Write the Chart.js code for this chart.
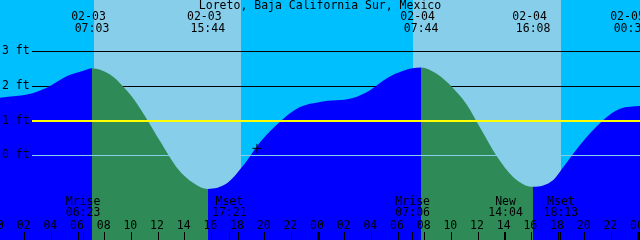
<!DOCTYPE html>
<html>
<head>
<meta charset="utf-8">
<script src="https://cdn.jsdelivr.net/npm/chart.js@4/dist/chart.umd.min.js"></script>
<style>
  html, body { margin: 0; padding: 0; background: #00bfff; }
  canvas { display: block; }
</style>
</head>
<body>
<canvas id="chartMarea" width="640" height="240"></canvas>
<script>
const titulo = "Loreto, Baja California Sur, Mexico";

// hours since 02-03 00:00 / height in ft
const horas = [0.15, 2.6, 3.9, 5.15, 6.4, 7.05, 8.4, 9.4, 10.15, 11.2, 12.15, 13.45, 14.65, 15.73,
  17.2, 18.3, 19.65, 21.3, 22.65, 24.15, 26.6, 27.9, 29.2, 30.4, 31.73, 32.9, 34.1, 35.2,
  36.15, 37.45, 38.65, 40.13, 41.65, 42.4, 43.65, 45.4, 46.65, 48.15, 48.55];
const alturas = [1.66, 1.79, 2.0, 2.28, 2.44, 2.51, 2.33, 1.98, 1.64, 1.02, 0.41, -0.37, -0.80, -0.97,
  -0.80, -0.34, 0.38, 1.02, 1.39, 1.54, 1.65, 1.88, 2.23, 2.44, 2.53, 2.35, 1.95, 1.44,
  0.80, -0.05, -0.63, -0.91, -0.71, -0.34, 0.30, 1.02, 1.34, 1.42, 1.43];

// high / low tides
const mareaHoras = [7.05, 15.733, 31.733, 40.133, 48.55];
const mareaTipo = ["high", "low", "high", "low", "high"];
const mareaFecha = ["02-03", "02-03", "02-04", "02-04", "02-05"];
const mareaHora = ["07:03", "15:44", "07:44", "16:08", "00:33"];

// sun
const salidaSol = [7.2, 31.12];
const puestaSol = [18.22, 42.22];

// moon
const lunaHoras = [6.383, 17.35, 31.1, 38.067, 42.217];
const lunaNombre = ["Mrise", "Mset", "Mrise", "New", "Mset"];
const lunaHora = ["06:23", "17:21", "07:06", "14:04", "18:13"];

const nivelesPies = [0, 1, 2, 3];
const horasEje = [0, 2, 4, 6, 8, 10, 12, 14, 16, 18, 20, 22, 24, 26, 28, 30, 32, 34, 36, 38, 40, 42, 44, 46, 48];
const ahoraHora = [19.42];
const ahoraAltura = [0.2];

const FUENTE = '11.5px "DejaVu Sans Mono", monospace';

function colorRelleno(context) {
  const chart = context.chart;
  const { chartArea, scales } = chart;
  if (!chartArea) return "#0000ff";
  const g = chart.ctx.createLinearGradient(chartArea.left, 0, chartArea.right, 0);
  let prev = "#0000ff";
  g.addColorStop(0, prev);
  mareaHoras.forEach((h, i) => {
    let p = (scales.x.getPixelForValue(h) - chartArea.left) / chartArea.width;
    p = Math.min(Math.max(p, 0), 1);
    const next = mareaTipo[i] === "high" ? "#2e8b57" : "#0000ff";
    g.addColorStop(p, prev);
    g.addColorStop(p, next);
    prev = next;
  });
  g.addColorStop(1, prev);
  return g;
}

function linea(ctx, a, py, color, ancho) {
  ctx.strokeStyle = color;
  ctx.lineWidth = ancho;
  const yy = ancho % 2 ? Math.round(py) + 0.5 : Math.round(py);
  ctx.beginPath();
  ctx.moveTo(32, yy);
  ctx.lineTo(a.right, yy);
  ctx.stroke();
}

const fondoPlugin = {
  id: "fondo",
  beforeDatasetsDraw(chart) {
    const { ctx, chartArea: a, scales: { x, y } } = chart;
    ctx.save();
    ctx.fillStyle = "#00bfff";
    ctx.fillRect(a.left, a.top, a.width, a.height);
    ctx.fillStyle = "#87ceeb";
    salidaSol.forEach((s, i) => {
      const x1 = Math.round(x.getPixelForValue(s));
      const x2 = Math.round(x.getPixelForValue(puestaSol[i]));
      ctx.fillRect(x1, a.top, x2 - x1, a.height);
    });
    linea(ctx, a, y.getPixelForValue(3), "#000", 1);
    linea(ctx, a, y.getPixelForValue(2), "#000", 1);
    ctx.restore();
  },
  afterDatasetsDraw(chart) {
    const { ctx, chartArea: a, scales: { x, y } } = chart;
    ctx.save();
    linea(ctx, a, y.getPixelForValue(1), "#ffff00", 2);
    linea(ctx, a, y.getPixelForValue(0), "#87ceeb", 1);

    ctx.font = FUENTE;
    ctx.fillStyle = "#000";
    ctx.textBaseline = "middle";

    ctx.textAlign = "left";
    nivelesPies.forEach(n => ctx.fillText(n + " ft", 2, y.getPixelForValue(n)));

    ctx.textAlign = "center";
    ctx.fillText(titulo, 320, 6);

    // tide labels on top
    mareaHoras.forEach((h, i) => {
      const cx = Math.min(x.getPixelForValue(h), a.right - 9);
      ctx.fillText(mareaFecha[i], cx - 3.5, 17.5);
      ctx.fillText(mareaHora[i], cx, 29.5);
    });

    // moon labels
    lunaHoras.forEach((h, i) => {
      const px = x.getPixelForValue(h);
      ctx.fillText(lunaNombre[i], px, 202);
      ctx.fillText(lunaHora[i], px, 213);
      ctx.fillRect(Math.floor(px), 232, 1, 8);
    });

    // hour axis
    horasEje.forEach(h => {
      const px = x.getPixelForValue(h);
      const etiqueta = String(h % 24).padStart(2, "0");
      ctx.fillText(etiqueta, px - 1, 226);
      if (h % 24 === 0) {
        ctx.fillRect(Math.round(px) - 1, 232, 3, 8);
      } else {
        ctx.fillRect(Math.floor(px), 232, 1, 8);
      }
    });
    ctx.restore();
  }
};

new Chart(document.getElementById("chartMarea"), {
  data: {
    datasets: [
      {
        type: "scatter",
        data: ahoraHora.map((h, i) => ({ x: h, y: ahoraAltura[i] })),
        pointStyle: "cross",
        pointRadius: 4.5,
        borderColor: "#000",
        borderWidth: 1
      },
      {
        type: "line",
        data: horas.map((h, i) => ({ x: h, y: alturas[i] })),
        fill: "start",
        backgroundColor: colorRelleno,
        borderColor: "rgba(0,0,0,0)",
        borderWidth: 0,
        pointRadius: 0,
        cubicInterpolationMode: "monotone"
      }
    ]
  },
  options: {
    responsive: false,
    animation: false,
    devicePixelRatio: 1,
    layout: { padding: 0, autoPadding: false },
    events: [],
    plugins: {
      legend: { display: false },
      tooltip: { enabled: false }
    },
    scales: {
      x: { type: "linear", min: 0.15, max: 48.15, display: false },
      y: { type: "linear", min: -2.443, max: 4.48, display: false }
    }
  },
  plugins: [fondoPlugin]
});
</script>
</body>
</html>
